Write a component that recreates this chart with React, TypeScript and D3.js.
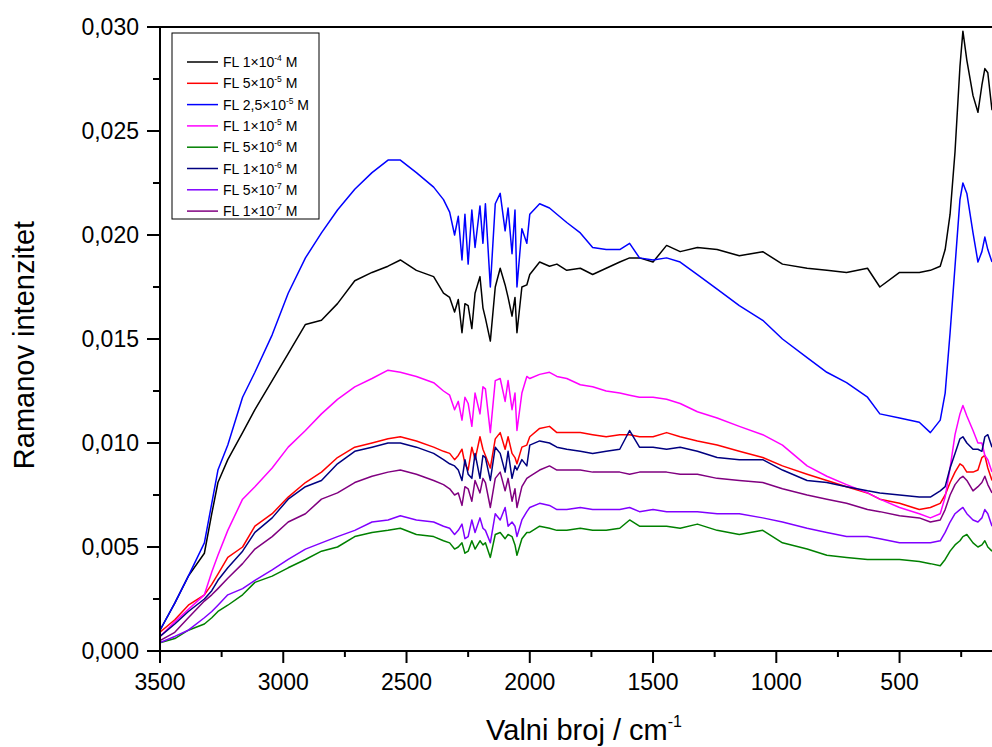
import React from 'react';
import * as d3 from 'd3';

const wavenumbers = [3500, 3440, 3385, 3320, 3290, 3265, 3225, 3165, 3115, 3045, 2980, 2910, 2845, 2780, 2710, 2640, 2575, 2525, 2460, 2390, 2350, 2325, 2305, 2290, 2275, 2263, 2250, 2235, 2222, 2202, 2190, 2180, 2160, 2140, 2120, 2100, 2088, 2072, 2060, 2052, 2032, 2012, 2000, 1960, 1920, 1890, 1850, 1795, 1745, 1690, 1635, 1595, 1555, 1500, 1445, 1390, 1320, 1240, 1150, 1055, 975, 875, 795, 715, 630, 580, 500, 420, 375, 335, 315, 295, 275, 255, 243, 227, 202, 182, 166, 154, 142, 125];

const fl1e4 = [0.0010, 0.0023, 0.0036, 0.0047, 0.0066, 0.0081, 0.0092, 0.0105, 0.0116, 0.0130, 0.0143, 0.0157, 0.0159, 0.0167, 0.0178, 0.0182, 0.0185, 0.0188, 0.0183, 0.0180, 0.0172, 0.0170, 0.0163, 0.0169, 0.0153, 0.0167, 0.0166, 0.0155, 0.0172, 0.0180, 0.0165, 0.0160, 0.0149, 0.0175, 0.0184, 0.0176, 0.0170, 0.0161, 0.0170, 0.0153, 0.0175, 0.0176, 0.0181, 0.0187, 0.0185, 0.0186, 0.0183, 0.0184, 0.0181, 0.0184, 0.0187, 0.0189, 0.0189, 0.0187, 0.0195, 0.0192, 0.0194, 0.0193, 0.0190, 0.0192, 0.0186, 0.0184, 0.0183, 0.0182, 0.0184, 0.0175, 0.0182, 0.0182, 0.0183, 0.0185, 0.0193, 0.0210, 0.0240, 0.0281, 0.0298, 0.0284, 0.0267, 0.0259, 0.0272, 0.0280, 0.0278, 0.0260];

const fl5e5 = [0.0009, 0.0015, 0.0022, 0.0027, 0.0032, 0.0037, 0.0045, 0.0050, 0.0060, 0.0066, 0.0074, 0.0081, 0.0086, 0.0093, 0.0098, 0.0100, 0.0102, 0.0103, 0.0101, 0.0098, 0.0096, 0.0095, 0.0092, 0.0094, 0.0097, 0.0090, 0.0087, 0.0098, 0.0092, 0.0103, 0.0097, 0.0094, 0.0088, 0.0102, 0.0105, 0.0097, 0.0103, 0.0095, 0.0093, 0.0090, 0.0098, 0.0099, 0.0103, 0.0107, 0.0108, 0.0105, 0.0105, 0.0105, 0.0104, 0.0103, 0.0104, 0.0104, 0.0103, 0.0103, 0.0105, 0.0103, 0.0101, 0.0099, 0.0096, 0.0093, 0.0089, 0.0085, 0.0082, 0.0079, 0.0076, 0.0073, 0.0071, 0.0068, 0.0069, 0.0071, 0.0075, 0.0081, 0.0086, 0.0090, 0.0089, 0.0086, 0.0086, 0.0087, 0.0093, 0.0094, 0.0088, 0.0082];

const fl25e5 = [0.0010, 0.0023, 0.0036, 0.0052, 0.0071, 0.0087, 0.0099, 0.0122, 0.0134, 0.0152, 0.0172, 0.0189, 0.0201, 0.0212, 0.0222, 0.0230, 0.0236, 0.0236, 0.0230, 0.0223, 0.0217, 0.0211, 0.0200, 0.0209, 0.0188, 0.0210, 0.0186, 0.0212, 0.0194, 0.0214, 0.0196, 0.0215, 0.0175, 0.0215, 0.0220, 0.0202, 0.0213, 0.0191, 0.0212, 0.0175, 0.0203, 0.0196, 0.0210, 0.0215, 0.0213, 0.0210, 0.0206, 0.0201, 0.0194, 0.0193, 0.0193, 0.0196, 0.0189, 0.0188, 0.0189, 0.0187, 0.0181, 0.0174, 0.0166, 0.0159, 0.0150, 0.0141, 0.0134, 0.0129, 0.0122, 0.0114, 0.0112, 0.0110, 0.0105, 0.0111, 0.0124, 0.0153, 0.0185, 0.0217, 0.0225, 0.0220, 0.0201, 0.0187, 0.0192, 0.0199, 0.0193, 0.0187];

const fl1e5 = [0.0007, 0.0014, 0.0020, 0.0027, 0.0038, 0.0046, 0.0058, 0.0073, 0.0079, 0.0088, 0.0098, 0.0106, 0.0114, 0.0121, 0.0127, 0.0131, 0.0135, 0.0134, 0.0132, 0.0129, 0.0125, 0.0123, 0.0116, 0.0120, 0.0111, 0.0122, 0.0119, 0.0108, 0.0124, 0.0114, 0.0127, 0.0126, 0.0105, 0.0130, 0.0131, 0.0120, 0.0130, 0.0116, 0.0124, 0.0106, 0.0124, 0.0132, 0.0131, 0.0133, 0.0134, 0.0132, 0.0131, 0.0128, 0.0127, 0.0125, 0.0124, 0.0123, 0.0122, 0.0122, 0.0121, 0.0119, 0.0115, 0.0112, 0.0108, 0.0104, 0.0099, 0.0089, 0.0084, 0.0080, 0.0076, 0.0073, 0.0069, 0.0066, 0.0064, 0.0066, 0.0074, 0.0088, 0.0104, 0.0114, 0.0118, 0.0113, 0.0106, 0.0100, 0.0100, 0.0094, 0.0092, 0.0086];

const fl5e6 = [0.0004, 0.0006, 0.0010, 0.0013, 0.0016, 0.0019, 0.0022, 0.0027, 0.0033, 0.0036, 0.0040, 0.0044, 0.0048, 0.0050, 0.0055, 0.0057, 0.0058, 0.0059, 0.0056, 0.0055, 0.0053, 0.0052, 0.0049, 0.0050, 0.0052, 0.0047, 0.0048, 0.0053, 0.0049, 0.0053, 0.0051, 0.0052, 0.0045, 0.0056, 0.0057, 0.0054, 0.0056, 0.0055, 0.0051, 0.0046, 0.0054, 0.0057, 0.0057, 0.0060, 0.0059, 0.0058, 0.0058, 0.0059, 0.0058, 0.0058, 0.0059, 0.0063, 0.0060, 0.0060, 0.0060, 0.0059, 0.0061, 0.0058, 0.0056, 0.0058, 0.0052, 0.0049, 0.0046, 0.0045, 0.0044, 0.0044, 0.0044, 0.0043, 0.0042, 0.0041, 0.0044, 0.0048, 0.0051, 0.0053, 0.0055, 0.0056, 0.0052, 0.0050, 0.0051, 0.0053, 0.0050, 0.0048];

const fl1e6 = [0.0007, 0.0013, 0.0019, 0.0025, 0.0029, 0.0034, 0.0040, 0.0048, 0.0057, 0.0064, 0.0073, 0.0079, 0.0082, 0.0090, 0.0096, 0.0098, 0.0100, 0.0100, 0.0098, 0.0095, 0.0092, 0.0090, 0.0089, 0.0087, 0.0082, 0.0092, 0.0085, 0.0083, 0.0095, 0.0083, 0.0094, 0.0093, 0.0082, 0.0098, 0.0095, 0.0086, 0.0096, 0.0083, 0.0089, 0.0087, 0.0092, 0.0089, 0.0099, 0.0101, 0.0100, 0.0098, 0.0097, 0.0096, 0.0095, 0.0096, 0.0097, 0.0106, 0.0098, 0.0098, 0.0097, 0.0098, 0.0096, 0.0093, 0.0092, 0.0092, 0.0087, 0.0082, 0.0081, 0.0079, 0.0077, 0.0076, 0.0075, 0.0074, 0.0074, 0.0077, 0.0079, 0.0088, 0.0095, 0.0102, 0.0103, 0.0100, 0.0097, 0.0097, 0.0096, 0.0103, 0.0104, 0.0098];

const fl5e7 = [0.0004, 0.0007, 0.0010, 0.0016, 0.0019, 0.0022, 0.0027, 0.0030, 0.0034, 0.0039, 0.0044, 0.0049, 0.0052, 0.0055, 0.0058, 0.0062, 0.0063, 0.0065, 0.0063, 0.0062, 0.0060, 0.0059, 0.0056, 0.0058, 0.0061, 0.0054, 0.0055, 0.0063, 0.0057, 0.0064, 0.0059, 0.0058, 0.0052, 0.0066, 0.0063, 0.0069, 0.0060, 0.0062, 0.0060, 0.0055, 0.0063, 0.0067, 0.0069, 0.0071, 0.0070, 0.0068, 0.0068, 0.0069, 0.0068, 0.0068, 0.0068, 0.0069, 0.0067, 0.0068, 0.0067, 0.0067, 0.0067, 0.0066, 0.0066, 0.0064, 0.0062, 0.0059, 0.0057, 0.0055, 0.0055, 0.0054, 0.0052, 0.0052, 0.0052, 0.0053, 0.0057, 0.0062, 0.0066, 0.0068, 0.0069, 0.0066, 0.0063, 0.0062, 0.0064, 0.0068, 0.0066, 0.0060];

const fl1e7 = [0.0005, 0.0009, 0.0016, 0.0024, 0.0027, 0.0030, 0.0035, 0.0042, 0.0049, 0.0055, 0.0062, 0.0066, 0.0073, 0.0076, 0.0081, 0.0084, 0.0086, 0.0087, 0.0085, 0.0082, 0.0080, 0.0078, 0.0075, 0.0076, 0.0070, 0.0079, 0.0078, 0.0072, 0.0082, 0.0076, 0.0083, 0.0081, 0.0069, 0.0083, 0.0086, 0.0077, 0.0083, 0.0072, 0.0078, 0.0069, 0.0079, 0.0083, 0.0084, 0.0087, 0.0089, 0.0087, 0.0087, 0.0087, 0.0086, 0.0086, 0.0086, 0.0085, 0.0086, 0.0086, 0.0086, 0.0085, 0.0085, 0.0083, 0.0082, 0.0081, 0.0078, 0.0075, 0.0073, 0.0071, 0.0068, 0.0067, 0.0065, 0.0064, 0.0062, 0.0063, 0.0068, 0.0075, 0.0080, 0.0083, 0.0084, 0.0082, 0.0077, 0.0079, 0.0081, 0.0084, 0.0080, 0.0076];

const seriesValues = [fl1e4, fl5e5, fl25e5, fl1e5, fl5e6, fl1e6, fl5e7, fl1e7];
const seriesMantissa = ['1', '5', '2,5', '1', '5', '1', '5', '1'];
const seriesExponent = ['-4', '-5', '-5', '-5', '-6', '-6', '-7', '-7'];
const seriesColors = ['#000000', '#ff0000', '#0000ff', '#ff00ff', '#008000', '#000080', '#8000ff', '#800080'];

const xMajorTicks = [3500, 3000, 2500, 2000, 1500, 1000, 500];
const xMinorTicks = [3250, 2750, 2250, 1750, 1250, 750, 250];
const yMajorTicks = [0, 0.005, 0.01, 0.015, 0.02, 0.025, 0.03];
const yMinorTicks = [0.0025, 0.0075, 0.0125, 0.0175, 0.0225, 0.0275];

const FONT = 'Arial, "Liberation Sans", Helvetica, sans-serif';

export default function App() {
  const W = 992;
  const H = 747;
  const left = 160;
  const right = 992;
  const top = 27;
  const bottom = 651;
  const x = d3.scaleLinear().domain([3500, 125]).range([left, right]);
  const y = d3.scaleLinear().domain([0, 0.03]).range([bottom, top]);
  const fmt = (v: number) => d3.format('.3f')(v).replace('.', ',');

  const line = d3
    .line<number>()
    .x((_, i) => x(wavenumbers[i]))
    .y((d) => y(d));

  const legX = 172;
  const legY = 33;
  const legW = 147;
  const legH = 186;
  const rowY0 = 62;
  const rowStep = 21.3;

  return (
    <svg
      width={W}
      height={H}
      style={{ position: 'absolute', left: 0, top: 0, background: '#fff' }}
      fontFamily={FONT}
    >
      <rect x={0} y={0} width={W} height={H} fill="#fff" />
      <defs>
        <clipPath id="plotclip">
          <rect x={left} y={top} width={right - left} height={bottom - top} />
        </clipPath>
      </defs>
      <g clipPath="url(#plotclip)">
        {seriesValues.map((vals, i) => (
          <path
            key={i}
            d={line(vals) || ''}
            fill="none"
            stroke={seriesColors[i]}
            strokeWidth={1.5}
            strokeLinejoin="round"
          />
        ))}
      </g>

      {/* frame */}
      <line x1={left} x2={right} y1={top} y2={top} stroke="#000" strokeWidth={2} />
      <line x1={left} x2={left} y1={top - 1} y2={bottom + 1} stroke="#000" strokeWidth={2} />
      <line x1={left - 1} x2={right} y1={bottom} y2={bottom} stroke="#000" strokeWidth={2} />

      {/* y axis ticks */}
      {yMajorTicks.map((t) => (
        <g key={'ym' + t}>
          <line x1={left - 13} x2={left} y1={y(t)} y2={y(t)} stroke="#000" strokeWidth={2} />
          <text x={left - 21} y={y(t)} dy="0.36em" textAnchor="end" fontSize={23} fill="#000">
            {fmt(t)}
          </text>
        </g>
      ))}
      {yMinorTicks.map((t) => (
        <line key={'yn' + t} x1={left - 7} x2={left} y1={y(t)} y2={y(t)} stroke="#000" strokeWidth={2} />
      ))}

      {/* x axis ticks */}
      {xMajorTicks.map((t) => (
        <g key={'xm' + t}>
          <line x1={x(t)} x2={x(t)} y1={bottom} y2={bottom + 12} stroke="#000" strokeWidth={2} />
          <text x={x(t)} y={bottom + 39} textAnchor="middle" fontSize={23} fill="#000">
            {t}
          </text>
        </g>
      ))}
      {xMinorTicks.map((t) => (
        <line key={'xn' + t} x1={x(t)} x2={x(t)} y1={bottom} y2={bottom + 6} stroke="#000" strokeWidth={2} />
      ))}

      {/* axis titles */}
      <text x={584} y={740} textAnchor="middle" fontSize={29} fill="#000">
        Valni broj / cm<tspan dy={-13} fontSize={16}>-1</tspan>
      </text>
      <text
        transform={`translate(34, 345) rotate(-90)`}
        textAnchor="middle"
        fontSize={29}
        fill="#000"
      >
        Ramanov intenzitet
      </text>

      {/* legend */}
      <rect x={legX} y={legY} width={legW} height={legH} fill="#fff" stroke="#000" strokeWidth={1} />
      {seriesColors.map((c, i) => {
        const ry = rowY0 + i * rowStep;
        return (
          <g key={'lg' + i}>
            <line x1={187} x2={218} y1={ry} y2={ry} stroke={c} strokeWidth={1.5} />
            <text x={223} y={ry} dy="0.36em" fontSize={14} fill="#000">
              {'FL ' + seriesMantissa[i] + '×10'}
              <tspan dy={-6} fontSize={8.5}>
                {seriesExponent[i]}
              </tspan>
              <tspan dy={6} fontSize={14}>
                {' M'}
              </tspan>
            </text>
          </g>
        );
      })}
    </svg>
  );
}
